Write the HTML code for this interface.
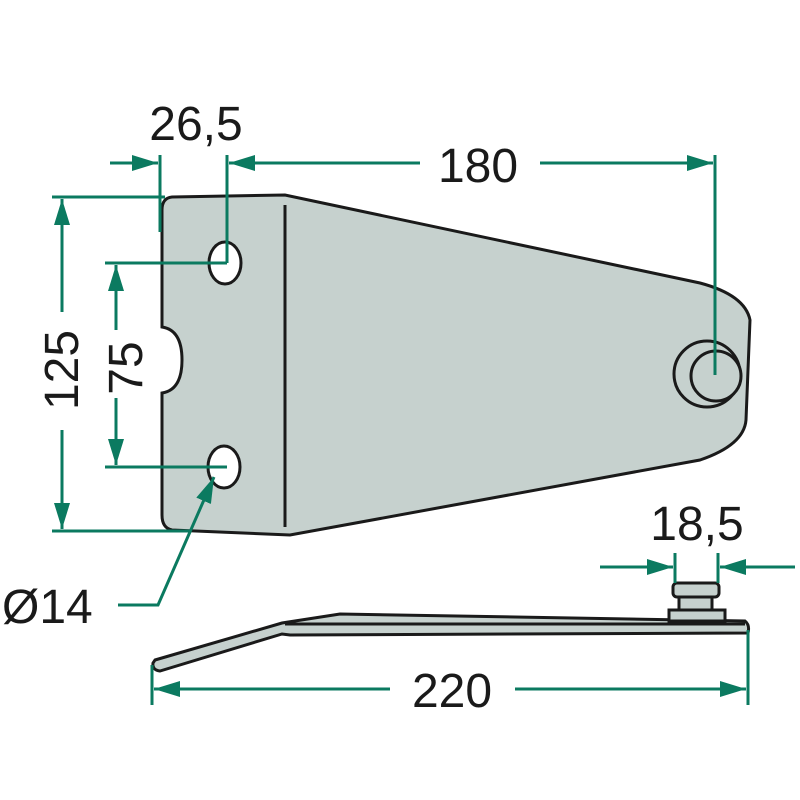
<!DOCTYPE html>
<html><head><meta charset="utf-8"><style>
html,body{margin:0;padding:0;background:#fff}
svg{display:block}
text{font-family:"Liberation Sans",sans-serif;font-size:48px;fill:#1a1a1a}
</style></head><body>
<svg width="800" height="800" viewBox="0 0 800 800" xmlns="http://www.w3.org/2000/svg">
<defs>
<marker id="a" viewBox="0 0 26 16" refX="26" refY="8" markerWidth="26" markerHeight="16" markerUnits="userSpaceOnUse" orient="auto"><path d="M0,0 L26,8 L0,16 z" fill="#0b7a60"/></marker>
</defs>
<!-- plate -->
<path d="M172,197 L285,195 L700,283 Q745,295 750,320 L746,420 Q744,445 700,460 L290,535 L172,530 Q162,528 162,515 L162,393 Q182,390 182,360 Q182,330 162,327 L162,210 Q162,198 172,197 Z" fill="#c6d1ce" stroke="#1a1a1a" stroke-width="3"/>
<line x1="285" y1="205" x2="285" y2="527" stroke="#1a1a1a" stroke-width="3"/>
<ellipse cx="225" cy="263" rx="16" ry="21" fill="#fff" stroke="#1a1a1a" stroke-width="3"/>
<ellipse cx="224" cy="467" rx="16" ry="21" fill="#fff" stroke="#1a1a1a" stroke-width="3"/>
<ellipse cx="707" cy="374" rx="33" ry="33" fill="#c6d1ce" stroke="#1a1a1a" stroke-width="3"/>
<circle cx="716" cy="376" r="25" fill="#c6d1ce" stroke="#1a1a1a" stroke-width="3"/>
<!-- side view -->
<path d="M155,660 L282,623 L340,614 L745,621 Q750,625 748,633 L290,635 L282,634 L160,671 Q152,670 153,663 Z" fill="#c6d1ce" stroke="#1a1a1a" stroke-width="3"/>
<line x1="285" y1="624" x2="745" y2="624" stroke="#1a1a1a" stroke-width="3"/>
<rect x="669" y="610" width="56" height="11" fill="#c6d1ce" stroke="#1a1a1a" stroke-width="3"/>
<rect x="679" y="596" width="33" height="14" fill="#c6d1ce" stroke="#1a1a1a" stroke-width="3"/>
<rect x="673" y="583" width="46" height="14" rx="4" fill="#c6d1ce" stroke="#1a1a1a" stroke-width="3"/>
<!-- dimensions -->
<g stroke="#0b7a60" stroke-width="3" fill="none">
<line x1="160" y1="155" x2="160" y2="232"/>
<line x1="227" y1="155" x2="227" y2="263"/>
<line x1="715" y1="155" x2="715" y2="375"/>
<line x1="110" y1="163" x2="158" y2="163" marker-end="url(#a)"/>
<line x1="420" y1="163" x2="229" y2="163" marker-end="url(#a)"/>
<line x1="540" y1="163" x2="713" y2="163" marker-end="url(#a)"/>
<line x1="52" y1="197" x2="165" y2="197"/>
<line x1="52" y1="531" x2="190" y2="531"/>
<line x1="62" y1="312" x2="62" y2="199" marker-end="url(#a)"/>
<line x1="62" y1="430" x2="62" y2="529" marker-end="url(#a)"/>
<line x1="105" y1="263" x2="227" y2="263"/>
<line x1="105" y1="467" x2="227" y2="467"/>
<line x1="116" y1="330" x2="116" y2="265" marker-end="url(#a)"/>
<line x1="116" y1="398" x2="116" y2="465" marker-end="url(#a)"/>
<polyline points="118,605 158,605 214,477" marker-end="url(#a)"/>
<line x1="675" y1="553" x2="675" y2="583"/>
<line x1="718" y1="553" x2="718" y2="583"/>
<line x1="600" y1="567" x2="673" y2="567" marker-end="url(#a)"/>
<line x1="795" y1="567" x2="720" y2="567" marker-end="url(#a)"/>
<line x1="152" y1="665" x2="152" y2="705"/>
<line x1="748" y1="630" x2="748" y2="705"/>
<line x1="390" y1="689" x2="154" y2="689" marker-end="url(#a)"/>
<line x1="515" y1="689" x2="746" y2="689" marker-end="url(#a)"/>
</g>
<text x="196" y="140" text-anchor="middle">26,5</text>
<text x="478" y="182" text-anchor="middle">180</text>
<text x="697" y="540" text-anchor="middle">18,5</text>
<text x="452" y="707" text-anchor="middle">220</text>
<text x="2" y="623">Ø14</text>
<text transform="translate(78,370) rotate(-90)" text-anchor="middle">125</text>
<text transform="translate(142,368) rotate(-90)" text-anchor="middle">75</text>
</svg>
</body></html>
